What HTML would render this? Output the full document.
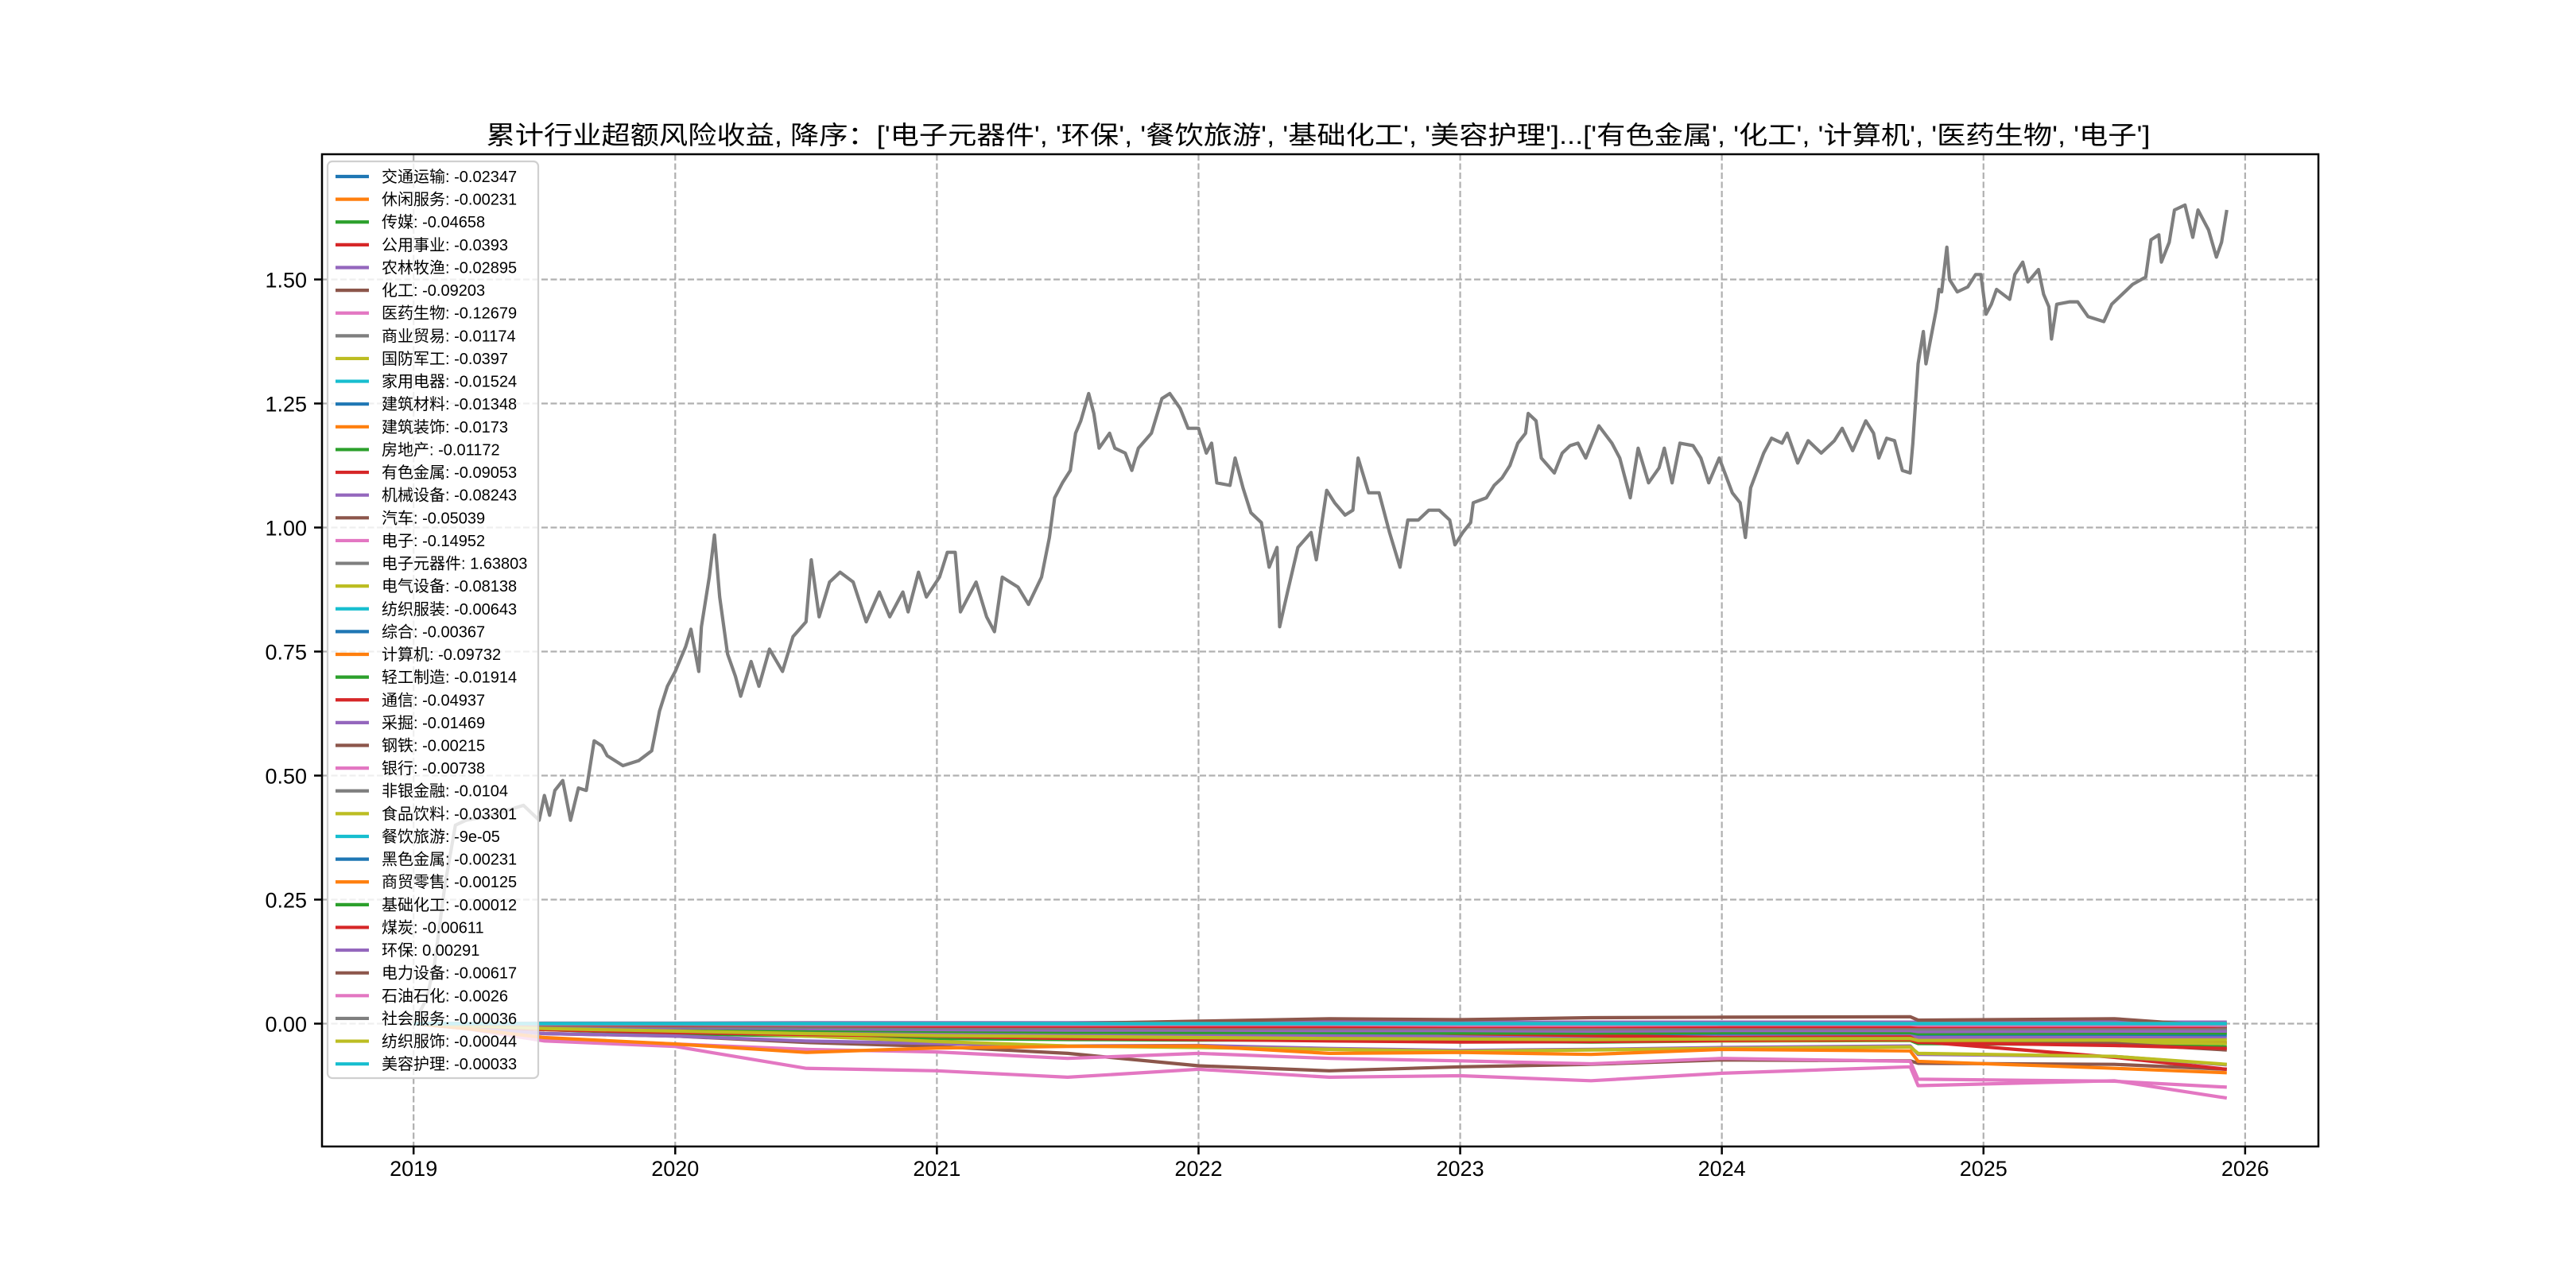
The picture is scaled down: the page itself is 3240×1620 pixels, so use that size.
<!DOCTYPE html>
<html><head><meta charset="utf-8">
<style>
html,body{margin:0;padding:0;background:#fff;}
svg{display:block;}
text{font-family:"Liberation Sans","Noto Sans CJK SC","WenQuanYi Zen Hei",sans-serif;}
</style></head>
<body>
<svg id="chart" xmlns="http://www.w3.org/2000/svg" width="3240" height="1620" viewBox="0 0 3240 1620">
<rect x="0" y="0" width="3240" height="1620" fill="#fff"/>
<text x="1658" y="181" font-size="32" text-anchor="middle" textLength="2093" lengthAdjust="spacingAndGlyphs">累计行业超额风险收益,  降序：['电子元器件', '环保', '餐饮旅游', '基础化工', '美容护理']...['有色金属', '化工', '计算机', '医药生物', '电子']</text>
<g id="grid"></g>
<g id="series"></g>
<g id="axes"></g>
<g id="legend"></g>
</svg>
<script>
// ---- data ----
const names = ['交通运输','休闲服务','传媒','公用事业','农林牧渔','化工','医药生物','商业贸易','国防军工','家用电器','建筑材料','建筑装饰','房地产','有色金属','机械设备','汽车','电子','电子元器件','电气设备','纺织服装','综合','计算机','轻工制造','通信','采掘','钢铁','银行','非银金融','食品饮料','餐饮旅游','黑色金属','商贸零售','基础化工','煤炭','环保','电力设备','石油石化','社会服务','纺织服饰','美容护理'];
const finals = ['-0.02347','-0.00231','-0.04658','-0.0393','-0.02895','-0.09203','-0.12679','-0.01174','-0.0397','-0.01524','-0.01348','-0.0173','-0.01172','-0.09053','-0.08243','-0.05039','-0.14952','1.63803','-0.08138','-0.00643','-0.00367','-0.09732','-0.01914','-0.04937','-0.01469','-0.00215','-0.00738','-0.0104','-0.03301','-9e-05','-0.00231','-0.00125','-0.00012','-0.00611','0.00291','-0.00617','-0.0026','-0.00036','-0.00044','-0.00033'];
const xTicks = [2019,2020,2021,2022,2023,2024,2025,2026];
const yTicks = [0,0.25,0.5,0.75,1.0,1.25,1.5];
const yTickLabels = ['0.00','0.25','0.50','0.75','1.00','1.25','1.50'];
// common date grid for the sector series
const gridYears = [2019.0,2019.2,2019.5,2020.0,2020.5,2021.0,2021.5,2022.0,2022.5,2023.0,2023.5,2024.0,2024.72,2024.75,2025.5,2025.93];
const s0  = [0,-0.003,-0.008,-0.012,-0.015,-0.017,-0.019,-0.02,-0.021,-0.022,-0.022,-0.021,-0.021,-0.023,-0.022,-0.024];
const s1  = [0,-0.001,-0.002,-0.002,-0.003,-0.003,-0.002,-0.002,-0.002,-0.003,-0.003,-0.002,-0.002,-0.003,-0.002,-0.002];
const s2  = [0,-0.005,-0.012,-0.02,-0.025,-0.03,-0.032,-0.033,-0.033,-0.035,-0.037,-0.035,-0.034,-0.04,-0.042,-0.047];
const s3  = [0,-0.004,-0.01,-0.016,-0.02,-0.024,-0.028,-0.03,-0.032,-0.034,-0.035,-0.034,-0.033,-0.036,-0.037,-0.039];
const s4  = [0,-0.003,-0.008,-0.012,-0.016,-0.02,-0.022,-0.024,-0.025,-0.026,-0.027,-0.026,-0.025,-0.028,-0.028,-0.029];
const s5  = [0,-0.008,-0.02,-0.025,-0.038,-0.046,-0.06,-0.085,-0.095,-0.087,-0.082,-0.073,-0.075,-0.08,-0.082,-0.092];
const s6  = [0,-0.01,-0.03,-0.041,-0.052,-0.057,-0.07,-0.06,-0.07,-0.075,-0.081,-0.07,-0.076,-0.112,-0.116,-0.128];
const s7  = [0,-0.002,-0.004,-0.006,-0.007,-0.008,-0.009,-0.01,-0.01,-0.011,-0.011,-0.01,-0.01,-0.012,-0.011,-0.012];
const s8  = [0,-0.003,-0.01,-0.015,-0.02,-0.025,-0.03,-0.03,-0.032,-0.035,-0.036,-0.035,-0.033,-0.037,-0.038,-0.04];
const s9  = [0,-0.002,-0.005,-0.008,-0.01,-0.012,-0.013,-0.013,-0.014,-0.014,-0.015,-0.014,-0.014,-0.016,-0.015,-0.015];
const s10 = [0,-0.002,-0.005,-0.007,-0.009,-0.01,-0.011,-0.012,-0.012,-0.013,-0.013,-0.012,-0.012,-0.014,-0.013,-0.013];
const s11 = [0,-0.002,-0.006,-0.009,-0.012,-0.013,-0.015,-0.016,-0.016,-0.017,-0.017,-0.016,-0.016,-0.018,-0.017,-0.017];
const s12 = [0,-0.002,-0.004,-0.006,-0.007,-0.008,-0.009,-0.01,-0.01,-0.011,-0.011,-0.011,-0.011,-0.012,-0.012,-0.012];
const s13 = [0,-0.005,-0.01,-0.012,-0.01,-0.012,-0.012,-0.01,-0.014,-0.02,-0.024,-0.028,-0.027,-0.036,-0.068,-0.092];
const s14 = [0,-0.008,-0.02,-0.025,-0.035,-0.04,-0.045,-0.044,-0.05,-0.054,-0.052,-0.048,-0.045,-0.062,-0.066,-0.083];
const s15 = [0,-0.004,-0.01,-0.015,-0.02,-0.025,-0.03,-0.03,-0.03,-0.032,-0.035,-0.03,-0.03,-0.035,-0.04,-0.053];
const s16 = [0,-0.01,-0.035,-0.046,-0.09,-0.095,-0.108,-0.092,-0.108,-0.105,-0.115,-0.10,-0.087,-0.125,-0.115,-0.15];
const s18 = [0,-0.005,-0.01,-0.014,-0.025,-0.036,-0.045,-0.048,-0.052,-0.056,-0.053,-0.05,-0.047,-0.06,-0.066,-0.082];
const s19 = [0,-0.001,-0.003,-0.004,-0.005,-0.005,-0.006,-0.006,-0.006,-0.006,-0.007,-0.006,-0.006,-0.007,-0.006,-0.006];
const s20 = [0,-0.001,-0.002,-0.003,-0.003,-0.003,-0.004,-0.004,-0.004,-0.004,-0.004,-0.004,-0.004,-0.004,-0.004,-0.004];
const s21 = [0,-0.01,-0.028,-0.041,-0.058,-0.049,-0.046,-0.045,-0.06,-0.058,-0.062,-0.052,-0.055,-0.076,-0.09,-0.099];
const s22 = [0,-0.003,-0.007,-0.01,-0.013,-0.015,-0.017,-0.018,-0.018,-0.019,-0.019,-0.018,-0.018,-0.02,-0.019,-0.019];
const s23 = [0,-0.004,-0.012,-0.018,-0.022,-0.025,-0.03,-0.032,-0.035,-0.037,-0.036,-0.034,-0.032,-0.038,-0.044,-0.05];
const s24 = [0,-0.002,-0.005,-0.008,-0.01,-0.012,-0.013,-0.013,-0.014,-0.014,-0.015,-0.014,-0.014,-0.016,-0.015,-0.015];
const s25 = [0,0,-0.001,-0.001,-0.002,-0.002,-0.002,-0.002,-0.002,-0.002,-0.002,-0.002,-0.002,-0.002,-0.002,-0.002];
const s26 = [0,-0.001,-0.003,-0.004,-0.005,-0.006,-0.007,-0.007,-0.007,-0.007,-0.008,-0.007,-0.007,-0.008,-0.007,-0.007];
const s27 = [0,-0.002,-0.004,-0.006,-0.007,-0.008,-0.009,-0.01,-0.01,-0.01,-0.011,-0.01,-0.01,-0.011,-0.01,-0.01];
const s28 = [0,-0.004,-0.01,-0.015,-0.02,-0.024,-0.026,-0.028,-0.03,-0.031,-0.032,-0.031,-0.03,-0.034,-0.033,-0.033];
const s29 = [0,0,0,0,0,0,0,0,0,0,0,0,0,0,0,0];
const s30 = [0,0,-0.001,-0.001,-0.002,-0.002,-0.002,-0.002,-0.002,-0.002,-0.002,-0.002,-0.002,-0.002,-0.002,-0.002];
const s31 = [0,0,-0.001,-0.001,-0.001,-0.001,-0.001,-0.001,-0.001,-0.001,-0.001,-0.001,-0.001,-0.001,-0.001,-0.001];
const s32 = [0,0,0,0,0,0,0,0,0,0,0,0,0,0,0,0];
const s33 = [0,-0.001,-0.002,-0.003,-0.004,-0.005,-0.005,-0.006,-0.006,-0.006,-0.006,-0.006,-0.006,-0.006,-0.006,-0.006];
const s34 = [0,0,0.001,0.001,0.002,0.002,0.002,0.003,0.003,0.003,0.003,0.003,0.003,0.003,0.003,0.003];
const s35 = [0,0,0,-0.002,-0.004,-0.002,0.0,0.005,0.01,0.008,0.012,0.013,0.014,0.007,0.01,-0.006];
const s36 = [0,0,-0.001,-0.001,-0.002,-0.002,-0.002,-0.002,-0.002,-0.003,-0.003,-0.002,-0.002,-0.003,-0.003,-0.003];
const s37 = [0,0,0,0,0,0,0,0,0,0,0,0,0,0,0,0];
const s38 = [0,0,0,0,0,0,0,0,0,0,0,0,0,0,0,0];
const s39 = [0,0,0,0,0,0,0,0,0,0,0,0,0,0,0,0];
// 电子元器件 (own dates)
const gYears = [2019.0,2019.05,2019.08,2019.12,2019.16,2019.2,2019.3,2019.42,2019.48,2019.5,2019.52,2019.54,2019.57,2019.6,2019.63,2019.66,2019.69,2019.72,2019.74,2019.8,2019.86,2019.91,2019.94,2019.97,2020.0,2020.04,2020.06,2020.09,2020.1,2020.13,2020.15,2020.17,2020.2,2020.23,2020.25,2020.29,2020.32,2020.36,2020.41,2020.45,2020.5,2020.52,2020.55,2020.59,2020.63,2020.68,2020.73,2020.78,2020.82,2020.87,2020.89,2020.93,2020.96,2021.01,2021.04,2021.07,2021.09,2021.15,2021.19,2021.22,2021.25,2021.31,2021.35,2021.4,2021.43,2021.45,2021.48,2021.51,2021.53,2021.55,2021.58,2021.6,2021.62,2021.66,2021.68,2021.72,2021.745,2021.77,2021.82,2021.86,2021.89,2021.93,2021.96,2022.0,2022.03,2022.05,2022.07,2022.12,2022.14,2022.17,2022.2,2022.24,2022.27,2022.3,2022.31,2022.34,2022.38,2022.43,2022.45,2022.49,2022.52,2022.56,2022.59,2022.61,2022.65,2022.69,2022.73,2022.77,2022.8,2022.84,2022.88,2022.92,2022.96,2022.98,2023.01,2023.04,2023.05,2023.1,2023.13,2023.16,2023.19,2023.22,2023.25,2023.26,2023.29,2023.31,2023.36,2023.39,2023.42,2023.45,2023.48,2023.53,2023.58,2023.61,2023.65,2023.68,2023.72,2023.76,2023.78,2023.81,2023.84,2023.89,2023.92,2023.95,2023.99,2024.04,2024.07,2024.09,2024.11,2024.16,2024.19,2024.23,2024.25,2024.29,2024.33,2024.38,2024.43,2024.46,2024.5,2024.55,2024.58,2024.6,2024.63,2024.66,2024.69,2024.72,2024.73,2024.75,2024.77,2024.78,2024.8,2024.82,2024.83,2024.84,2024.86,2024.87,2024.9,2024.94,2024.97,2024.99,2025.01,2025.03,2025.05,2025.1,2025.12,2025.15,2025.17,2025.21,2025.23,2025.25,2025.26,2025.28,2025.33,2025.36,2025.4,2025.46,2025.49,2025.53,2025.57,2025.62,2025.64,2025.67,2025.68,2025.71,2025.73,2025.77,2025.8,2025.82,2025.86,2025.89,2025.91,2025.93];
const gVals = [0,0.05,0.12,0.28,0.40,0.41,0.42,0.44,0.41,0.46,0.42,0.47,0.49,0.41,0.475,0.47,0.57,0.56,0.54,0.52,0.53,0.55,0.63,0.68,0.71,0.76,0.795,0.71,0.80,0.90,0.985,0.86,0.745,0.70,0.66,0.73,0.68,0.755,0.71,0.78,0.81,0.935,0.82,0.89,0.91,0.89,0.81,0.87,0.82,0.87,0.83,0.91,0.86,0.90,0.95,0.95,0.83,0.89,0.82,0.79,0.90,0.88,0.845,0.90,0.98,1.06,1.09,1.115,1.19,1.215,1.27,1.23,1.16,1.19,1.16,1.15,1.115,1.16,1.19,1.26,1.27,1.24,1.20,1.20,1.15,1.17,1.09,1.085,1.14,1.08,1.03,1.01,0.92,0.96,0.80,0.87,0.96,0.99,0.935,1.075,1.05,1.025,1.035,1.14,1.07,1.07,0.99,0.92,1.015,1.015,1.035,1.035,1.015,0.965,0.99,1.01,1.05,1.06,1.085,1.10,1.125,1.17,1.19,1.23,1.215,1.14,1.11,1.15,1.165,1.17,1.14,1.205,1.17,1.14,1.06,1.16,1.09,1.12,1.16,1.09,1.17,1.165,1.14,1.09,1.14,1.07,1.05,0.98,1.08,1.15,1.18,1.17,1.19,1.13,1.175,1.15,1.175,1.20,1.155,1.215,1.19,1.14,1.18,1.175,1.115,1.11,1.17,1.33,1.395,1.33,1.385,1.44,1.48,1.475,1.565,1.50,1.475,1.485,1.51,1.51,1.43,1.45,1.48,1.46,1.51,1.535,1.495,1.52,1.47,1.445,1.38,1.45,1.455,1.455,1.425,1.415,1.45,1.47,1.49,1.505,1.58,1.59,1.535,1.575,1.64,1.65,1.585,1.64,1.60,1.545,1.575,1.64];

const colors = ['#1f77b4','#ff7f0e','#2ca02c','#d62728','#9467bd','#8c564b','#e377c2','#7f7f7f','#bcbd22','#17becf'];
const sectorVals = [s0,s1,s2,s3,s4,s5,s6,s7,s8,s9,s10,s11,s12,s13,s14,s15,s16,null,s18,s19,s20,s21,s22,s23,s24,s25,s26,s27,s28,s29,s30,s31,s32,s33,s34,s35,s36,s37,s38,s39];

// ---- axes functions ----
const L=405,R=2916,T=194,B=1442;
const X0=2018.65,X1=2026.28;
function xs(t){return L+(t-X0)/(X1-X0)*(R-L);}
function ys(v){return 1287.5-v*624;}
const NS='http://www.w3.org/2000/svg';
function mk(tag,attrs,parent){const e=document.createElementNS(NS,tag);for(const k in attrs)e.setAttribute(k,attrs[k]);parent.appendChild(e);return e;}

const gGrid=document.getElementById('grid');
const gSeries=document.getElementById('series');
const gAxes=document.getElementById('axes');
const gLeg=document.getElementById('legend');

xTicks.forEach(function(t){
  const ln=mk('line',{x1:xs(t),x2:xs(t),y1:T,y2:B,stroke:'#b0b0b0','stroke-width':2.2,'stroke-dasharray':'8,3.5'},gGrid);
  
  
});
yTicks.forEach(function(v){
  const ln=mk('line',{x1:L,x2:R,y1:ys(v),y2:ys(v),stroke:'#b0b0b0','stroke-width':2.2,'stroke-dasharray':'8,3.5'},gGrid);
  
  
});

const clip=mk('clipPath',{id:'plotclip'},gSeries);
mk('rect',{x:L,y:T,width:R-L,height:B-T},clip);

names.forEach(function(n,i){
  let pts;
  if(i===17){pts=gYears.map(function(t,j){return xs(t).toFixed(1)+','+ys(gVals[j]).toFixed(1);});}
  else{const arr=sectorVals[i];pts=gridYears.map(function(t,j){return xs(t).toFixed(1)+','+ys(arr[j]).toFixed(1);});}
  const pl=mk('polyline',{points:pts.join(' '),fill:'none',stroke:colors[i%10],'stroke-width':4.2,'stroke-linejoin':'round','clip-path':'url(#plotclip)'},gSeries);
  
  
});

// axes frame
const frame=mk('rect',{x:L,y:T,width:R-L,height:B-T,fill:'none',stroke:'#000','stroke-width':2.5},gAxes);


xTicks.forEach(function(t){
  mk('line',{x1:xs(t),x2:xs(t),y1:B,y2:B+10,stroke:'#000','stroke-width':2.5},gAxes);
  const tx=mk('text',{x:xs(t),y:B+37,'font-size':27,'text-anchor':'middle',fill:'#000'},gAxes);
  tx.textContent=String(t);
  
  
});
yTicks.forEach(function(v,i){
  mk('line',{x1:L-10,x2:L,y1:ys(v),y2:ys(v),stroke:'#000','stroke-width':2.5},gAxes);
  const tx=mk('text',{x:L-19,y:ys(v)+10,'font-size':27,'text-anchor':'end',fill:'#000'},gAxes);
  tx.textContent=yTickLabels[i];
  
  
});

// legend
const box=mk('rect',{x:412,y:203,width:265,height:1153,rx:6,fill:'#fff','fill-opacity':0.8,stroke:'#d0d0d0','stroke-width':2.2},gLeg);


names.forEach(function(n,i){
  const cy=222+i*28.62;
  const h=mk('line',{x1:422,x2:464,y1:cy,y2:cy,stroke:colors[i%10],'stroke-width':4.2},gLeg);
  
  
  const tx=mk('text',{x:480,y:cy+7,'font-size':20,fill:'#000'},gLeg);
  tx.textContent=n+': '+finals[i];
  
  
});
</script>
</body></html>
